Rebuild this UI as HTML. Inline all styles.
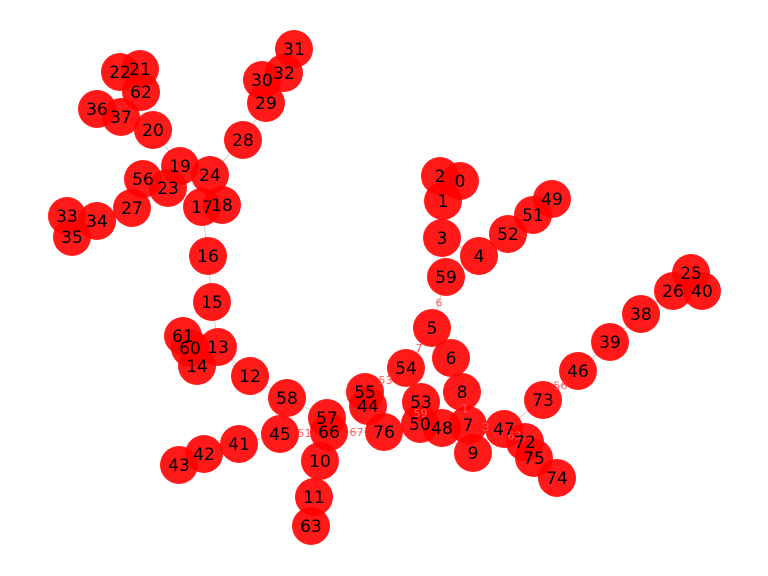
<!DOCTYPE html>
<html><head><meta charset="utf-8"><style>
html,body{margin:0;padding:0;background:#fff;width:768px;height:576px;overflow:hidden}
svg{display:block}
text{font-family:"DejaVu Sans","Liberation Sans",sans-serif}
</style></head><body>
<svg id="g" width="768" height="576" viewBox="0 0 768 576"></svg>
<script>
const nodeIds=[0,1,2,3,4,5,6,7,8,9,10,11,12,13,14,15,16,17,18,19,20,21,22,23,24,25,26,27,28,29,30,31,32,33,34,35,36,37,38,39,40,41,42,43,44,45,46,47,48,49,50,51,52,53,54,55,56,57,58,59,60,61,62,63,66,72,73,74,75,76];
const nodeX=[460,443,440,442,479,432,451,468,462,473,320,314,250,218,197,212,208,202,222,180,153,140,120,168,210,691,673,132,243,266,262,294,284,67,97,72,97,121,641,610,702,239,204,179,368,280,578,504,442,552,420,533,508,421,406,365,143,327,287,446,190,183,141,311,329,525,543,557,534,384];
const nodeY=[181,201,176,238,256,328,358,425,392,453,461,497,376,347,366,302,256,207,205,166,130,69,72,188,175,273,291,208,140,103,80,49,73,216,221,237,109,117,314,342,291,444,454,465,406,434,371,429,428,199,424,215,234,402,368,392,179,418,398,277,348,336,92,526,432,442,400,478,458,432];
const edgeFrom=[2,1,3,59,5,6,8,7,7,7,47,47,47,72,73,46,39,38,26,26,3,4,52,51,5,54,53,50,48,76,66,66,10,11,57,58,45,41,42,55,58,12,13,13,13,15,16,17,17,24,28,29,30,32,24,19,20,37,37,62,62,23,23,27,34,34,44,50,60];
const edgeTo=[1,3,59,5,6,8,7,9,47,48,72,73,75,75,46,39,38,26,25,40,4,52,51,49,54,53,50,48,76,66,57,10,11,63,58,45,41,42,43,44,12,13,15,14,60,16,17,18,24,28,29,30,32,31,19,20,37,36,62,22,21,56,27,34,33,35,55,53,61];
const edgeLabels=["67","51","6","7","53","59","1","3","63","56"];
const edgeLabelFrom=[76,45,59,5,54,53,8,7,47,73];
const edgeLabelTo=[66,66,5,54,55,50,7,47,72,46];
const NS="http://www.w3.org/2000/svg";
const svg=document.getElementById('g');
const idx=id=>nodeIds.indexOf(id);
const px=id=>nodeX[idx(id)], py=id=>nodeY[idx(id)];
const eg=document.createElementNS(NS,'g');


svg.appendChild(eg);
for(let i=0;i<edgeFrom.length;i++){
  const l=document.createElementNS(NS,'line');
  
  
  l.setAttribute('x1',px(edgeFrom[i]));l.setAttribute('y1',py(edgeFrom[i]));
  l.setAttribute('x2',px(edgeTo[i]));l.setAttribute('y2',py(edgeTo[i]));
  l.setAttribute('stroke','#000');l.setAttribute('stroke-opacity','0.2');l.setAttribute('stroke-width','1');
  eg.appendChild(l);
}
const ng=document.createElementNS(NS,'g');


svg.appendChild(ng);
for(let i=0;i<nodeIds.length;i++){
  const c=document.createElementNS(NS,'circle');
  
  
  c.setAttribute('cx',nodeX[i]);c.setAttribute('cy',nodeY[i]);c.setAttribute('r','19');
  c.setAttribute('fill','#ff0000');c.setAttribute('fill-opacity','0.9');
  ng.appendChild(c);
}
const elg=document.createElementNS(NS,'g');


svg.appendChild(elg);
for(let i=0;i<edgeLabels.length;i++){
  const t=document.createElementNS(NS,'text');
  
  
  t.setAttribute('x',(px(edgeLabelFrom[i])+px(edgeLabelTo[i]))/2);
  t.setAttribute('y',(py(edgeLabelFrom[i])+py(edgeLabelTo[i]))/2+4);
  t.setAttribute('text-anchor','middle');t.setAttribute('font-size','11');
  t.setAttribute('fill','#ff6060');
  t.textContent=edgeLabels[i];
  elg.appendChild(t);
}
const lg=document.createElementNS(NS,'g');


svg.appendChild(lg);
for(let i=0;i<nodeIds.length;i++){
  const t=document.createElementNS(NS,'text');
  
  
  t.setAttribute('x',nodeX[i]);t.setAttribute('y',nodeY[i]+6);
  t.setAttribute('text-anchor','middle');t.setAttribute('font-size','17');
  t.setAttribute('fill','#000');
  t.textContent=nodeIds[i];
  lg.appendChild(t);
}
</script>
</body></html>
